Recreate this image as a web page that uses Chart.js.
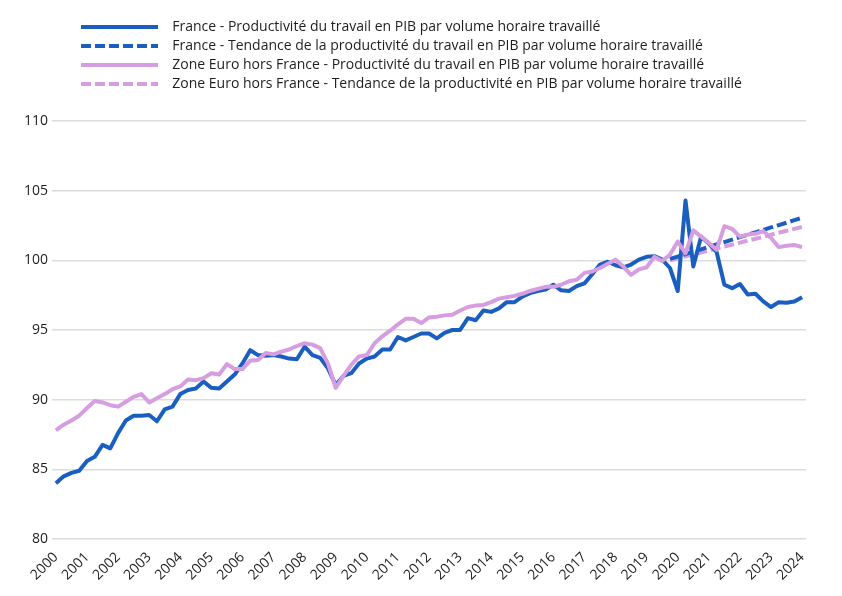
<!DOCTYPE html>
<html lang="fr">
<head>
<meta charset="utf-8">
<title>Productivité du travail</title>
<script src="https://cdn.jsdelivr.net/npm/chart.js"></script>
<style>
  html, body { margin: 0; padding: 0; background: #fff; }
  #wrap { width: 842px; height: 596px; }
</style>
</head>
<body>
<div id="wrap"><canvas id="myChart"></canvas></div>
<script>
// annees affichees sur l'axe, donnees trimestrielles 2000-T1 .. 2024-T1
const years = [2000, 2001, 2002, 2003, 2004, 2005, 2006, 2007, 2008, 2009, 2010, 2011, 2012,
  2013, 2014, 2015, 2016, 2017, 2018, 2019, 2020, 2021, 2022, 2023, 2024];
const quarters = ['T1', 'T2', 'T3', 'T4'];
const yTicks = [80, 85, 90, 95, 100, 105, 110];

const seriesNames = [
  'France - Productivité du travail en PIB par volume horaire travaillé',
  'France - Tendance de la productivité du travail en PIB par volume horaire travaillé',
  'Zone Euro hors France - Productivité du travail en PIB par volume horaire travaillé',
  'Zone Euro hors France - Tendance de la productivité en PIB par volume horaire travaillé'
];

const france = [
  84.0, 84.5, 84.75, 84.9, 85.6, 85.9, 86.75, 86.5, 87.6, 88.5, 88.85, 88.85,
  88.9, 88.45, 89.3, 89.5, 90.4, 90.7, 90.8, 91.3, 90.85, 90.8, 91.3, 91.8,
  92.6, 93.55, 93.2, 93.15, 93.2, 93.1, 92.95, 92.9, 93.8, 93.2, 93.0, 92.25,
  91.05, 91.7, 91.9, 92.6, 92.95, 93.1, 93.6, 93.6, 94.5, 94.25, 94.5, 94.75,
  94.75, 94.4, 94.8, 95.0, 95.0, 95.85, 95.7, 96.4, 96.3, 96.55, 97.0, 97.0,
  97.4, 97.65, 97.8, 97.9, 98.25, 97.85, 97.8, 98.15, 98.35, 99.0, 99.7, 99.9,
  99.65, 99.5, 99.7, 100.05, 100.25, 100.3, 100.05, 99.45, 97.8, 104.3, 99.55, 101.7,
  101.2, 100.6, 98.25, 98.0, 98.3, 97.55, 97.6, 97.05, 96.65, 97.0, 96.95, 97.05,
  97.35
];

const franceTrend = [
  null, null, null, null, null, null, null, null, null, null, null, null,
  null, null, null, null, null, null, null, null, null, null, null, null,
  null, null, null, null, null, null, null, null, null, null, null, null,
  null, null, null, null, null, null, null, null, null, null, null, null,
  null, null, null, null, null, null, null, null, null, null, null, null,
  null, null, null, null, null, null, null, null, null, null, null, null,
  null, null, null, null, null, null, null, 100.1, 100.27, 100.45, 100.62, 100.79,
  100.97, 101.14, 101.31, 101.49, 101.66, 101.84, 102.01, 102.18, 102.36, 102.53, 102.7, 102.88,
  103.05
];

const euro = [
  87.8, 88.2, 88.5, 88.85, 89.4, 89.9, 89.8, 89.6, 89.5, 89.85, 90.2, 90.4,
  89.8, 90.1, 90.4, 90.75, 90.95, 91.45, 91.4, 91.55, 91.9, 91.8, 92.55, 92.2,
  92.2, 92.8, 92.85, 93.35, 93.25, 93.45, 93.6, 93.85, 94.05, 93.95, 93.7, 92.6,
  90.85, 91.7, 92.5, 93.1, 93.2, 94.05, 94.55, 94.95, 95.4, 95.8, 95.8, 95.5,
  95.9, 95.95, 96.05, 96.1, 96.4, 96.65, 96.75, 96.8, 97.0, 97.25, 97.35, 97.45,
  97.6, 97.8, 97.95, 98.1, 98.1, 98.25, 98.5, 98.6, 99.1, 99.2, 99.45, 99.75,
  100.05, 99.55, 98.95, 99.35, 99.5, 100.25, 99.95, 100.4, 101.35, 100.5, 102.15, 101.7,
  101.25, 100.75, 102.45, 102.25, 101.7, 101.85, 101.9, 102.1, 101.6, 100.95, 101.05, 101.1,
  100.95
];

const euroTrend = [
  null, null, null, null, null, null, null, null, null, null, null, null,
  null, null, null, null, null, null, null, null, null, null, null, null,
  null, null, null, null, null, null, null, null, null, null, null, null,
  null, null, null, null, null, null, null, null, null, null, null, null,
  null, null, null, null, null, null, null, null, null, null, null, null,
  null, null, null, null, null, null, null, null, null, null, null, null,
  null, null, null, null, null, null, null, 100.0, 100.14, 100.28, 100.42, 100.56,
  100.71, 100.85, 100.99, 101.13, 101.27, 101.41, 101.55, 101.69, 101.84, 101.98, 102.12, 102.26,
  102.4
];

const labels = [];
years.forEach(y => quarters.forEach(q => labels.push(y + '-' + q)));
labels.length = france.length;

const blue = '#1a5fbf';
const pink = '#d69de0';

Chart.defaults.font.family = "'Open Sans', sans-serif";
Chart.defaults.font.size = 14;
Chart.defaults.color = '#1e1e1e';

// legende : decalage a gauche + espace sous la legende
const legendPlacement = {
  id: 'legendPlacement',
  beforeInit(chart) {
    const fit = chart.legend.fit;
    chart.legend.fit = function () {
      fit.call(this);
      this.height += 20;
    };
  },
  afterLayout(chart) {
    chart.legend.left = 76;
  }
};

const ctx = document.getElementById('myChart');

new Chart(ctx, {
  type: 'line',
  data: {
    labels: labels,
    datasets: [
      {
        label: seriesNames[0],
        data: france,
        borderColor: blue,
        backgroundColor: blue,
        borderWidth: 4,
        order: 1
      },
      {
        label: seriesNames[1],
        data: franceTrend,
        borderColor: blue,
        backgroundColor: blue,
        borderWidth: 4,
        borderDash: [10, 4],
        order: 2
      },
      {
        label: seriesNames[2],
        data: euro,
        borderColor: pink,
        backgroundColor: pink,
        borderWidth: 4,
        order: 0
      },
      {
        label: seriesNames[3],
        data: euroTrend,
        borderColor: pink,
        backgroundColor: pink,
        borderWidth: 4,
        borderDash: [10, 4],
        order: 3
      }
    ]
  },
  options: {
    responsive: true,
    maintainAspectRatio: false,
    animation: false,
    elements: {
      point: { radius: 0 },
      line: { tension: 0, borderJoinStyle: 'round' }
    },
    layout: { padding: { top: 15, right: 36, bottom: 0, left: 0 } },
    plugins: {
      legend: {
        position: 'top',
        align: 'start',
        labels: {
          usePointStyle: true,
          pointStyle: 'line',
          pointStyleWidth: 77,
          boxHeight: 14,
          padding: 5,
          font: { size: 14 },
          color: '#1e1e1e',
          sort: (a, b) => a.datasetIndex - b.datasetIndex,
          generateLabels: chart => {
            const items = Chart.defaults.plugins.legend.labels.generateLabels(chart);
            items.forEach(item => {
              const ds = chart.data.datasets[item.datasetIndex];
              item.lineDash = ds.borderDash || [];
              item.lineWidth = ds.borderWidth;
              item.strokeStyle = ds.borderColor;
              item.text = '  ' + item.text;
            });
            return items;
          }
        }
      },
      tooltip: { enabled: false }
    },
    scales: {
      x: {
        offset: true,
        grid: { display: false },
        border: { display: false },
        afterFit: s => { s.height = 57; },
        ticks: {
          autoSkip: false,
          minRotation: 45,
          maxRotation: 45,
          padding: 2,
          callback: (v, i) => (i % 4 === 0 ? labels[i].slice(0, 4) : null)
        }
      },
      y: {
        min: 80,
        max: 110,
        afterFit: s => { s.width = 52; },
        afterBuildTicks: s => { s.ticks = yTicks.map(v => ({ value: v })); },
        grid: { color: '#dcdcdc', lineWidth: 1.5, drawTicks: false },
        border: { display: false },
        ticks: { padding: 4 }
      }
    }
  },
  plugins: [legendPlacement]
});
</script>
</body>
</html>
